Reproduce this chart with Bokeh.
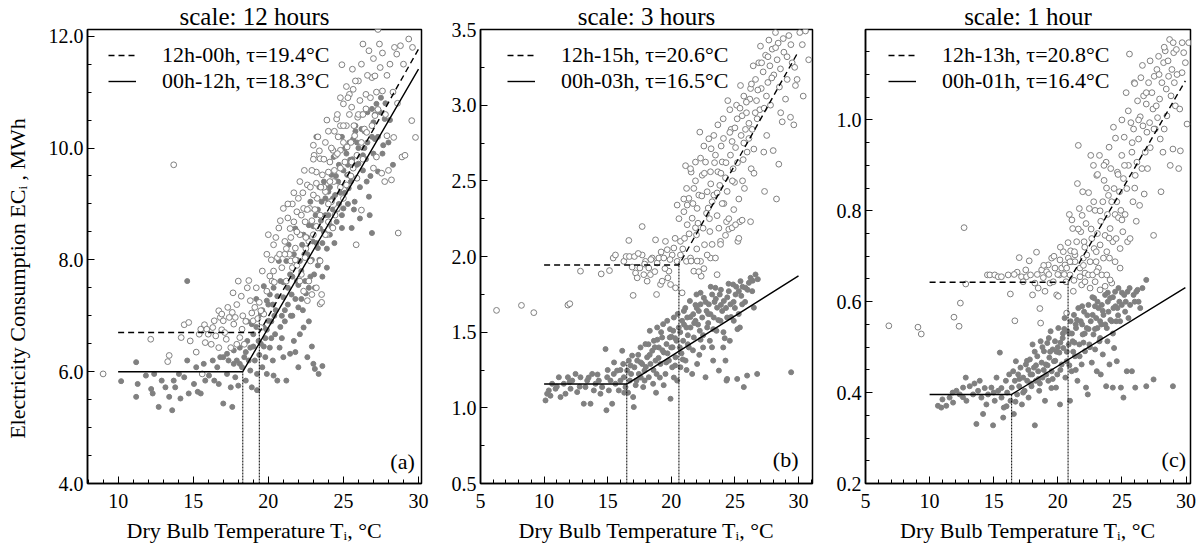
from bokeh.plotting import figure
from bokeh.layouts import row
from bokeh.models import FixedTicker, PrintfTickFormatter, Range1d, Label, Legend, LegendItem
from bokeh.embed import file_html
from bokeh.resources import INLINE

SERIF = "Liberation Serif"
GRAY = "#808080"

# ---------------- panel (a): scale 12 hours ----------------
a_day_pts = [(9.0,5.96),(13.7,9.7),(12.17,6.58),(13.4,6.29),(13.3,6.18),(14.2,6.61),(14.4,6.84),(14.7,6.88),(14.8,6.55),(15.2,6.35),(15.4,6.67),(15.75,6.84),(15.9,6.76),(16.0,6.67),(16.3,6.79),(16.5,6.64),(16.7,7.09),(16.8,6.97),(16.9,7.03),(17.0,6.91),(17.3,7.15),(17.4,6.97),(17.6,7.06),(17.7,6.85),(17.8,6.97),(18.0,7.62),(17.65,7.41),(18.1,6.61),(18.25,6.76),(18.4,6.49),(18.7,7.63),(18.8,7.27),(19.0,6.91),(19.1,7.15),(19.4,7.24),(19.5,6.79),(19.7,7.03),(15.5,6.76),(15.8,6.52),(16.2,6.49),(16.7,6.43),(17.2,6.58),(17.5,6.43),(17.9,6.49),(16.4,6.91),(15.6,5.96),
(20.0,8.45),(20.1,7.71),(20.35,7.80),(20.6,8.04),(20.75,8.1),(21.0,8.92),(20.9,7.86),(21.1,8.33),(21.2,7.62),(21.45,8.56),(21.5,7.98),(21.7,8.68),(21.8,8.21),(21.9,8.86),(22.0,9.1),(22.1,8.45),(22.2,7.74),(22.35,8.92),(22.45,8.68),(22.6,9.34),(22.7,8.33),(22.8,7.98),(23.0,10.05),(23.05,9.87),(23.2,9.37),(23.25,9.1),(23.3,8.57),(23.45,8.8),(23.55,7.38),(23.6,9.52),(23.8,9.22),(23.9,8.45),(24.0,9.57),(24.1,9.04),(24.3,9.96),(24.35,9.40),(24.45,8.8),(24.55,10.52),(24.65,10.2),(24.8,10.4),(24.8,9.96),(25.0,10.79),(25.1,9.75),(25.2,10.4),(25.35,9.52),(25.4,10.96),(25.55,10.73),(25.65,11.05),(25.75,10.22),(25.85,8.27),(25.95,10.55),(26.1,10.85),(26.2,8.89),(26.3,11.86),(26.4,10.34),(26.5,10.96),(26.7,11.74),(26.9,11.26),(27.0,9.64),(27.1,11.29),(27.2,9.84),(27.3,10.69),(27.4,11.86),(27.45,11.44),(27.55,9.55),(27.6,11.02),(27.75,9.40),(27.9,10.22),(28.0,9.6),(28.2,9.43),(28.35,10.19),(28.55,11.68),(28.65,8.48),(28.8,11.83),(28.9,9.84),(29.1,9.87),(29.35,11.95),(29.55,10.49),(29.8,10.19),(27.3,12.12),(24.9,11.49),(25.6,11.41),
(20.35,8.27),(20.7,8.57),(21.4,8.1),(21.6,7.86),(22.1,7.62),(22.35,7.44),(22.6,7.27),(22.9,7.38),(23.2,7.50),(23.45,7.21),(23.55,7.24),(22.7,7.62),(22.45,8.04),(23.0,8.45),(23.45,7.98),(23.8,8.45),(24.0,8.68),(24.2,9.04),(24.3,8.57),(24.6,8.92),(25.0,9.1),(25.2,9.34),(25.55,9.75),(25.9,9.87),(26.2,10.1),(26.55,10.28),(26.9,10.4),(27.1,10.58),(25.9,9.46),(25.65,9.64),(25.25,10.02),(24.8,9.64),(24.5,9.87),(24.1,9.75),(23.8,10.1),(23.45,9.81),(23.2,9.57),(23.0,9.16),(22.75,8.92),(19.5,7.09),(19.9,7.44),(20.25,7.62),
(21.3,8.75),(21.6,9.0),(22.3,9.2),(22.9,9.6),(23.4,9.95),(24.0,10.3),(24.6,10.6),(25.3,10.9),(22.5,8.4),(21.8,8.0),(22.9,8.7),(23.7,9.3),(24.4,9.6),(25.0,10.1),(25.7,10.4),(26.5,10.7),(26.0,11.2),(27.9,11.3),(28.3,11.0),(28.6,10.8),
(19.2,7.5),(19.6,7.8),(19.9,8.1),(20.2,8.0),(20.5,8.4),(20.8,8.7),(21.1,8.1),(21.3,9.0),(21.5,8.4),(21.7,9.2),(21.9,8.5),(22.1,9.4),(22.2,8.8),(22.4,9.6),(22.6,8.9),(22.8,9.3),(23.0,9.8),(23.1,8.9),(23.3,10.2),(23.5,9.3),(23.7,9.8),(23.9,10.5),(24.1,9.4),(24.2,10.0),(24.4,10.3),(24.6,9.9),(24.8,10.9),(25.0,10.4),(25.2,11.1),(25.4,10.6),(25.5,10.1),(25.8,11.2),(26.0,10.6),(26.2,11.5),(26.3,10.6),(26.6,11.3),(26.8,10.9),(27.0,11.6),(27.2,11.0),(27.6,11.7),(27.8,10.6),(28.1,11.5),(28.4,11.8),(29.0,11.5),(29.6,11.8),(17.9,7.2),(18.3,7.0),(18.5,6.9),(18.9,7.05),(19.3,6.95),(16.9,6.75),(17.1,6.7),(18.2,7.35),(18.6,7.5),(20.4,7.6),(21.2,8.2),(21.9,7.9),(22.5,8.2),(23.2,8.6),(24.0,9.0),(24.8,9.3),(25.5,9.5),(26.3,9.8)]

a_night_pts = [(10.2,5.83),(11.2,6.17),(11.2,5.55),(11.3,5.78),(11.85,5.93),(12.2,5.69),(12.3,5.61),(12.4,5.96),(12.7,5.37),(12.9,5.84),(13.15,5.72),(13.4,5.55),(13.6,5.31),(13.7,5.84),(13.8,5.72),(14.05,5.96),(14.15,5.52),(14.4,5.90),(14.6,7.62),(14.6,6.2),(14.7,5.61),(15.05,5.78),(15.2,6.08),(15.3,5.64),(15.5,5.61),(15.7,6.14),(15.8,5.84),(16.05,5.93),(16.3,6.20),(16.4,5.84),(16.6,6.08),(16.7,5.78),(17.0,5.43),(17.0,6.26),(17.25,5.96),(17.35,6.2),(17.5,5.72),(17.6,5.37),(17.7,6.38),(17.8,5.90),(17.9,6.2),(18.0,5.75),(18.1,6.43),(18.25,6.08),(18.4,6.26),(18.5,5.84),(18.6,6.55),(18.7,6.2),(18.8,6.43),(18.9,5.72),(19.0,6.67),(19.1,6.2),(19.25,5.67),(19.35,6.55),(19.5,7.03),(19.6,6.08),(19.7,6.79),(19.8,6.26),(19.9,5.96),(20.0,6.91),(20.1,6.43),(20.35,5.93),(20.45,6.67),(20.6,5.84),(20.75,6.43),(21.0,6.26),(21.2,5.84),(21.45,6.32),(21.7,6.55),(22.0,6.08),(22.1,6.67),(22.35,6.79),(22.6,6.26),(23.0,6.14),(23.1,6.05),(23.35,5.96),
(19.7,7.53),(19.9,7.27),(20.1,7.38),(20.35,7.50),(20.7,7.98),(20.8,7.62),(21.0,7.33),(21.2,7.98),(21.35,8.27),(21.45,7.74),(21.55,7.38),(21.7,8.1),(21.8,8.56),(21.9,7.62),(22.0,7.15),(22.1,7.98),(22.25,8.27),(22.35,8.45),(22.45,7.62),(22.6,8.1),(22.7,8.62),(22.8,9.04),(22.95,8.33),(23.05,7.74),(23.15,8.80),(23.2,10.2),(23.3,8.21),(23.45,8.56),(23.55,9.04),(23.7,9.40),(23.8,8.8),(23.9,7.86),(24.0,9.22),(24.05,9.04),(24.1,8.45),(24.2,9.52),(24.35,9.84),(24.45,9.16),(24.55,8.68),(24.65,9.4),(24.8,9.64),(24.9,8.57),(25.0,8.92),(25.1,9.99),(25.25,9.52),(25.35,9.28),(25.45,9.79),(25.55,8.57),(25.65,10.16),(25.75,9.04),(25.9,9.46),(26.0,9.72),(26.1,8.74),(26.2,10.34),(26.3,9.87),(26.55,9.40),(26.7,9.13),(26.75,8.80),(26.9,8.48),(27.0,10.46),(27.1,10.16),(27.2,10.79),(27.45,10.64),(27.65,10.05),(27.75,10.52),(28.0,10.1),(26.6,10.64),(27.3,9.58),
(19.25,5.96),(16.8,6.26),(17.25,6.32),(17.7,6.14),(18.1,6.14),(18.8,6.02),(18.5,6.35),(19.0,6.45),(19.4,6.3),(19.8,6.6),(20.2,6.9),(20.5,7.1),(20.9,7.0),(21.3,7.2),(20.3,7.2),(19.6,7.1),(21.1,6.9),(21.6,7.0),(22.2,7.3),(22.7,7.5),(23.3,7.9),(23.6,8.3),(24.3,8.9),(24.7,9.0),(25.3,9.7),(25.9,10.1),(26.4,10.0),(26.9,10.2),(22.5,8.9),(23.4,9.3),(24.9,10.2),(25.8,10.4),
(19.2,6.8),(19.5,6.5),(19.9,6.75),(20.0,7.2),(20.2,6.6),(20.4,7.0),(20.6,7.35),(20.8,6.8),(21.0,7.6),(21.1,7.1),(21.3,7.5),(21.5,7.0),(21.6,7.7),(21.8,7.3),(21.9,8.0),(22.0,7.55),(22.2,7.8),(22.3,7.1),(22.4,8.1),(22.5,7.4),(22.6,8.4),(22.8,7.7),(22.9,8.0),(23.0,8.6),(23.1,7.5),(23.2,8.3),(23.3,8.9),(23.4,8.0),(23.5,8.7),(23.6,7.7),(23.7,8.5),(23.8,9.1),(23.9,8.2),(24.0,8.8),(24.1,9.3),(24.2,8.6),(24.3,9.1),(24.4,8.3),(24.5,9.5),(24.6,8.9),(24.7,9.7),(24.8,9.2),(24.9,8.8),(25.0,9.6),(25.1,9.2),(25.2,9.9),(25.3,9.0),(25.4,10.1),(25.5,9.4),(25.6,9.8),(25.7,8.9),(25.8,10.3),(25.9,9.7),(26.0,10.0),(26.1,9.3),(26.2,10.6),(26.3,9.6),(26.4,10.3),(26.5,9.8),(26.6,10.1),(26.8,9.5),(26.9,10.7),(27.0,9.9),(27.1,10.6),(27.3,10.2),(27.5,10.9),(27.6,9.9),(27.8,10.8),(28.1,10.5),(28.3,9.7),(22.7,6.9),(22.9,6.45),(23.6,6.1),(21.8,6.35),(20.9,6.6),(20.3,6.2),(19.7,6.45),(18.9,6.85),(19.2,7.3),(18.6,6.9)]

a_fit_day_x = [10.0, 19.4, 30.0]
a_fit_day_y = [6.70, 6.70, 11.77]
a_fit_night_x = [10.0, 18.3, 30.0]
a_fit_night_y = [6.00, 6.00, 11.41]
a_tau_x = [18.3, 19.4]
a_tau_top = [6.00, 6.97]

# ---------------- panel (b): scale 3 hours ----------------
b_day_pts = [(6.26,1.644),(8.22,1.677),(9.19,1.629),(11.87,1.679),(12.02,1.688),(12.86,1.903),(14.49,1.885),(15.14,1.907),(15.43,1.990),(15.61,2.01),(16.27,1.968),(16.45,2.00),(16.66,2.106),(16.71,2.00),(16.92,1.93),(17.0,1.743),(17.1,2.0),(17.19,1.891),(17.32,1.859),(17.53,1.924),(17.71,2.198),(17.71,2.01),(17.84,1.88),(17.97,1.968),(18.1,1.837),(18.23,1.924),(18.36,1.88),(18.5,1.99),(18.76,2.11),(18.84,1.749),(18.89,1.957),(19.02,1.99),(19.15,1.815),(19.28,1.837),(19.41,1.99),(19.54,2.1),(19.68,2.045),(19.73,1.859),(19.81,1.903),(19.94,1.815),(20.07,2.01),(20.2,2.056),(20.33,1.793),(20.46,2.34),(20.46,1.968),(20.72,2.1),(20.85,1.76),(20.99,2.296),(21.04,2.12),(21.12,2.60),(21.19,1.968),(21.38,2.384),(21.51,1.99),(21.56,2.558),(21.64,2.253),(21.77,1.903),(21.9,2.624),(21.98,2.143),(22.03,2.318),(22.16,2.406),(22.24,2.822),(22.3,1.968),(22.35,1.87),(22.43,2.537),(22.5,2.187),(22.61,2.078),(22.69,2.624),(22.77,2.286),(22.82,2.428),(22.95,2.778),(23.03,2.165),(23.08,1.99),(23.13,2.712),(23.21,2.362),
(23.34,2.406),(23.47,2.67),(23.6,2.27),(23.66,2.56),(23.74,2.187),(23.81,2.47),(23.87,2.10),(23.92,2.73),(24.0,2.625),(24.08,2.91),(24.13,2.35),(24.26,2.52),(24.34,2.23),(24.39,2.43),(24.44,3.03),(24.52,2.18),(24.6,2.97),(24.65,2.67),(24.7,2.84),(24.78,2.76),(24.86,2.58),(24.91,2.31),(24.97,2.49),(25.05,2.72),(25.13,3.0),(25.18,2.91),(25.23,2.1),(25.31,2.38),(25.39,2.23),(25.44,3.13),(25.49,2.80),(25.57,2.93),(25.65,2.64),(25.7,3.06),(25.75,2.45),(25.83,2.84),(25.91,2.95),(25.96,2.69),(26.1,2.78),(26.17,3.04),(26.23,3.11),(26.28,2.58),(26.36,2.84),(26.44,3.26),(26.49,2.71),(26.62,3.17),(26.7,3.03),(26.75,2.91),(26.88,3.28),(26.96,2.97),(27.01,3.39),(27.07,3.11),(27.22,3.22),(27.27,2.69),(27.33,2.43),(27.41,3.33),(27.48,3.06),(27.59,3.15),(27.67,3.43),(27.75,3.26),(27.8,3.0),(27.93,3.37),(28.01,2.70),(28.06,3.20),(28.19,3.48),(28.27,2.38),(28.32,3.30),(28.4,3.41),(28.45,2.61),(28.58,3.24),(28.72,2.89),(28.85,3.35),(28.98,3.04),(29.11,3.17),(29.24,3.46),(29.37,2.92),(29.5,3.28),(29.63,2.87),(29.76,3.13),(29.89,3.17),(30.1,3.48),(30.37,3.06),(30.55,3.49),
(20.72,2.01),(21.25,2.21),(21.56,1.97),(21.9,2.19),(22.03,1.97),(22.16,1.90),(22.56,1.92),(22.82,2.01),(23.21,2.08),(23.47,1.99),(23.6,1.88),(23.87,2.08),(24.26,2.14),(24.52,2.25),(24.78,2.19),(25.05,2.21),(25.31,2.12),(25.57,2.24),(26.23,2.23),
(20.98,2.38),(21.77,2.45),(21.25,2.34),(21.51,2.58),(22.3,2.65),(22.56,2.73),(23.08,2.56),(23.34,2.80),(23.66,2.87),
(17.4,2.02),(17.9,1.95),(18.4,1.98),(18.7,1.90),(19.2,2.03),(19.5,1.92),(19.9,1.98),(20.3,2.12),(20.6,2.25),(20.9,2.05),(21.2,2.45),(21.4,2.15),(21.7,2.35),(21.9,2.50),(22.1,2.22),(22.4,2.40),(22.6,2.55),(22.9,2.32),(23.1,2.48),(23.4,2.62),(23.6,2.42),(23.9,2.55),(24.1,2.78),(24.3,2.62),(24.6,2.82),(24.8,2.50),(25.0,2.85),(25.2,2.62),(25.4,2.98),(25.7,2.75),(25.9,3.02),(26.1,2.88),(26.3,3.14),(26.6,2.95),(26.8,3.10),(27.1,3.28),(27.3,2.98),(27.6,3.32),(27.9,3.18),(28.2,3.38),(28.5,3.12),(28.8,3.44),(29.1,3.32),(29.4,3.40),(29.7,3.25),(30.3,3.40),(30.8,3.30),(22.0,2.05),(23.0,2.25),(24.0,2.35),(25.6,2.50),(26.5,2.55),(27.5,2.80),(28.6,2.95)]

b_night_pts = [(10.11,1.049),(10.24,1.093),(10.37,1.115),(10.63,1.159),(10.9,1.126),(11.16,1.202),(11.29,1.071),(11.55,1.159),(11.68,1.093),(11.87,1.202),(12.08,1.126),(12.21,1.18),(12.47,1.224),(12.6,1.104),(12.86,1.202),(13.12,1.027),(13.25,1.137),(13.39,1.18),(13.65,1.027),(13.78,1.224),(13.91,1.115),(14.04,1.159),(14.3,1.18),(14.43,1.093),(14.56,1.137),(14.83,1.388),(14.9,0.984),(14.96,1.202),(15.09,1.115),(15.22,1.18),(15.35,1.027),(15.48,1.224),(15.61,1.159),(15.74,1.246),(15.87,1.115),(16.0,1.18),(16.14,1.377),(16.22,1.29),(16.27,1.202),(16.4,1.137),(16.53,1.246),(16.66,1.312),(16.74,1.18),(16.84,1.224),(16.92,1.345),(17.0,1.071),(17.05,1.005),(17.1,1.268),(17.26,1.18),(17.32,1.312),(17.45,1.224),(17.58,1.399),(17.71,1.29),(17.79,1.137),(17.89,1.246),(17.97,1.421),(18.1,1.334),(18.23,1.202),(18.31,1.509),(18.36,1.29),(18.5,1.377),(18.57,1.159),(18.63,1.443),(18.76,1.312),(18.84,1.224),(18.89,1.531),(19.02,1.399),(19.15,1.29),(19.28,1.465),(19.36,1.553),(19.41,1.366),(19.54,1.224),(19.62,1.421),(19.68,1.575),(19.81,1.312),(19.88,1.465),(19.94,1.06),(19.99,1.399),(20.07,1.268),(20.15,1.509),(20.2,1.597),(20.33,1.334),(20.41,1.443),(20.46,1.18),(20.59,1.531),(20.67,1.399),(20.72,1.268),(20.85,1.575),(20.93,1.443),(20.99,1.64),(21.12,1.312),(21.19,1.531),(21.25,1.597),(21.38,1.399),(21.46,1.706),(21.51,1.531),(21.64,1.224),(21.72,1.619),(21.77,1.465),(21.9,1.575),(21.98,1.749),(22.03,1.29),(22.16,1.64),(22.24,1.509),(22.3,1.684),(22.43,1.597),(22.5,1.399),(22.56,1.727),(22.69,1.202),(22.77,1.64),(22.82,1.531),(22.95,1.684),(23.03,1.443),(23.08,1.619),(23.21,1.749),(23.29,1.312),(23.34,1.597),(23.47,1.793),(23.55,1.509),(23.6,1.662),(23.74,1.246),(23.81,1.749),(23.87,1.575),(24.0,1.64),(24.08,1.399),(24.13,1.706),(24.26,1.312),(24.34,1.18),(24.39,1.597),(24.52,1.771),(24.6,1.443),(24.65,1.684),(24.86,1.815),(24.91,1.575),(25.05,1.749),(25.18,1.191),(25.31,1.771),(25.39,1.531),(25.44,1.837),(25.57,1.684),(25.7,1.137),(25.83,1.793),(25.96,1.213),(26.1,1.826),(26.23,1.859),(26.36,1.771),(26.49,1.662),(26.62,1.881),(26.75,1.224),(29.42,1.235),(24.39,1.191),
(16.0,1.25),(16.6,1.10),(17.4,1.35),(18.0,1.27),(18.7,1.40),(19.2,1.50),(19.7,1.36),(20.3,1.46),(20.8,1.36),(21.3,1.48),(21.8,1.56),(22.3,1.45),(22.9,1.56),(23.4,1.70),(23.9,1.68),(24.4,1.73),(25.0,1.66),(25.6,1.80),(22.0,1.66),(21.0,1.55),(20.0,1.47),(19.0,1.33),(18.2,1.42),(17.6,1.20),
(17.2,1.15),(17.6,1.30),(17.9,1.18),(18.3,1.35),(18.6,1.25),(18.9,1.45),(19.1,1.20),(19.3,1.38),(19.6,1.30),(19.9,1.52),(20.1,1.40),(20.3,1.28),(20.5,1.62),(20.7,1.50),(20.9,1.32),(21.1,1.66),(21.3,1.42),(21.5,1.60),(21.7,1.38),(21.9,1.68),(22.1,1.55),(22.3,1.76),(22.5,1.48),(22.7,1.70),(22.9,1.62),(23.1,1.80),(23.3,1.52),(23.5,1.72),(23.7,1.58),(23.9,1.78),(24.1,1.50),(24.3,1.66),(24.5,1.82),(24.7,1.60),(24.9,1.70),(25.1,1.80),(25.3,1.62),(25.5,1.74),(25.8,1.70),(26.0,1.78),(26.4,1.84),(26.8,1.85),(25.2,1.52),(24.2,1.46),(23.2,1.40),(22.2,1.35),(21.2,1.25),(20.2,1.20),(19.4,1.15),(18.8,1.10),(15.5,1.30),(15.0,1.25),(14.2,1.22),(13.5,1.20),(12.8,1.14),(12.0,1.17),(11.0,1.14),(10.5,1.08),(16.8,1.28),(16.3,1.10)]

b_fit_day_x = [10.0, 20.6, 30.0]
b_fit_day_y = [1.944, 1.944, 3.356]
b_fit_night_x = [10.0, 16.5, 30.0]
b_fit_night_y = [1.157, 1.157, 1.872]
b_tau_x = [16.5, 20.6]
b_tau_top = [1.30, 1.97]

# ---------------- panel (c): scale 1 hour ----------------
c_day_pts = [(6.82,0.547),(9.09,0.544),(9.35,0.529),(11.9,0.566),(12.3,0.546),(12.4,0.597),(12.69,0.763),(12.82,0.639),(14.51,0.659),(14.7,0.659),(15.08,0.659),(15.35,0.655),(15.6,0.655),(16.13,0.659),(16.3,0.617),(16.65,0.558),(16.83,0.665),(16.99,0.697),(17.17,0.655),(17.3,0.644),(17.56,0.655),(17.77,0.690),(17.87,0.659),(18.03,0.615),(18.21,0.641),(18.34,0.709),(18.47,0.630),(18.6,0.585),(18.66,0.553),(18.74,0.670),(18.87,0.653),(19.0,0.623),(19.13,0.666),(19.26,0.681),(19.39,0.641),(19.52,0.696),(19.65,0.644),(19.78,0.674),(19.91,0.615),(20.04,0.612),(20.12,0.659),(20.17,0.692),(20.3,0.674),(20.43,0.710),(20.56,0.681),(20.64,0.644),(20.69,0.575),(20.82,0.696),(20.9,0.792),(20.95,0.659),(21.0,0.712),(21.08,0.688),(21.16,0.761),(21.21,0.623),(21.26,0.647),(21.34,0.688),(21.47,0.732),(21.53,0.860),(21.6,0.944),(21.68,0.805),(21.73,0.674),(21.79,0.754),(21.86,0.637),(21.94,0.842),(21.99,0.696),(22.05,0.732),(22.12,0.663),(22.2,0.772),(22.26,0.703),(22.39,0.659),(22.46,0.805),(22.52,0.688),(22.57,0.922),(22.65,0.739),(22.72,0.659),(22.78,0.900),(22.83,0.717),(22.91,0.801),(22.99,0.688),(23.04,0.878),(23.09,0.750),(23.17,0.674),(23.25,0.922),(23.3,0.725),(23.35,0.777),(23.43,0.659),(23.51,0.820),(23.56,0.696),(23.61,0.867),(23.69,0.746),(23.77,0.907),(23.82,0.710),(23.87,0.792),(23.95,0.834),(24.03,0.696),(24.08,0.761),(24.13,0.893),(24.21,0.641),(24.29,0.732),(24.34,0.984),(24.39,0.849),(24.47,0.792),(24.55,0.739),(24.6,0.820),(24.65,0.885),(24.73,0.785),(24.81,0.842),(24.86,0.717),(24.92,0.801),(24.99,0.922),(25.07,0.754),(25.12,0.871),(25.18,0.962),(25.25,0.792),(25.33,1.06),(25.38,0.849),(25.44,0.732),(25.51,0.900),(25.59,1.145),(25.64,0.739),(25.7,0.994),(25.78,0.929),(25.86,0.820),(25.91,0.980),(25.96,1.082),(26.04,0.878),(26.12,0.777),(26.17,0.907),(26.22,1.042),(26.3,0.958),(26.38,0.812),(26.43,1.007),(26.48,1.093),(26.56,0.893),(26.64,0.987),(26.69,1.053),(26.74,0.837),(26.82,0.929),(26.9,1.035),(26.95,0.973),(27.0,0.893),(27.08,1.082),(27.16,0.994),(27.21,0.939),(27.34,1.06),(27.42,1.024),(27.47,0.746),(27.52,1.096),(27.6,0.980),(27.68,1.031),(27.73,1.111),(27.78,1.005),(27.86,1.140),(27.94,1.046),(27.99,0.958),(28.05,0.842),(28.12,1.082),(28.2,0.929),(28.25,1.126),(28.3,0.980),(28.38,1.152),(28.46,1.068),(28.51,1.009),(28.64,1.096),(28.72,1.177),(28.77,0.900),(28.83,1.053),(28.9,1.111),(28.98,0.936),(29.04,1.148),(29.09,1.082),(29.17,1.031),(29.25,1.155),(29.43,0.893),(29.51,1.024),(29.56,0.932),(29.69,1.104),(29.82,1.148),(29.95,1.126),(30.08,0.991),(30.21,1.170),
(20.69,0.674),(20.95,0.688),(21.34,0.703),(21.73,0.655),(22.12,0.644),(22.52,0.630),(22.91,0.644),(23.3,0.626),(23.69,0.634),(24.08,0.648),(24.47,0.688),(24.86,0.674),(23.82,0.659),(23.04,0.666),
(18.9,0.68),(19.3,0.66),(19.7,0.70),(20.2,0.72),(20.5,0.66),(20.8,0.73),(21.1,0.78),(21.3,0.71),(21.6,0.76),(21.9,0.79),(22.1,0.72),(22.4,0.84),(22.6,0.76),(22.8,0.82),(23.1,0.88),(23.3,0.80),(23.6,0.90),(23.8,0.85),(24.0,0.94),(24.2,0.82),(24.5,0.96),(24.7,0.88),(25.0,1.00),(25.2,0.90),(25.5,1.02),(25.8,0.95),(26.0,1.08),(26.3,1.00),(26.6,1.12),(26.9,1.06),(27.2,1.13),(27.5,0.98),(27.9,1.10),(28.3,1.16),(28.6,1.13),(29.0,1.17),(29.3,1.10),(29.7,1.17),(22.0,0.68),(23.0,0.71),(24.0,0.74),(25.0,0.78),(26.0,0.85),(20.0,0.66),(18.4,0.66),(17.5,0.67),(16.6,0.66)]

c_night_pts = [(10.65,0.371),(10.91,0.367),(11.3,0.371),(11.56,0.389),(11.83,0.378),(12.09,0.404),(12.35,0.396),(12.61,0.411),(12.82,0.433),(12.87,0.382),(13.13,0.414),(13.39,0.396),(13.65,0.331),(13.78,0.404),(13.91,0.426),(14.04,0.389),(14.17,0.353),(14.43,0.374),(14.56,0.396),(14.82,0.411),(14.95,0.328),(15.08,0.382),(15.22,0.433),(15.35,0.404),(15.48,0.488),(15.61,0.389),(15.74,0.345),(15.79,0.367),(15.95,0.426),(16.05,0.400),(16.21,0.440),(16.31,0.382),(16.41,0.411),(16.52,0.447),(16.57,0.353),(16.65,0.426),(16.73,0.469),(16.83,0.396),(16.91,0.440),(16.99,0.414),(17.09,0.455),(17.2,0.374),(17.3,0.433),(17.41,0.404),(17.51,0.462),(17.61,0.426),(17.72,0.389),(17.82,0.473),(17.87,0.440),(17.95,0.414),(18.03,0.506),(18.14,0.455),(18.21,0.328),(18.29,0.426),(18.4,0.480),(18.47,0.447),(18.55,0.404),(18.66,0.513),(18.74,0.466),(18.81,0.433),(18.92,0.491),(19.0,0.382),(19.07,0.462),(19.18,0.509),(19.26,0.426),(19.34,0.477),(19.44,0.535),(19.52,0.447),(19.6,0.495),(19.7,0.469),(19.78,0.513),(19.86,0.411),(19.96,0.440),(20.04,0.542),(20.12,0.488),(20.17,0.374),(20.3,0.462),(20.38,0.520),(20.43,0.498),(20.53,0.564),(20.59,0.433),(20.69,0.469),(20.77,0.535),(20.85,0.506),(20.95,0.382),(21.0,0.557),(21.08,0.447),(21.16,0.513),(21.26,0.571),(21.34,0.480),(21.42,0.542),(21.53,0.426),(21.6,0.586),(21.68,0.506),(21.79,0.557),(21.86,0.462),(21.94,0.528),(22.05,0.578),(22.12,0.491),(22.2,0.411),(22.26,0.542),(22.34,0.396),(22.39,0.593),(22.46,0.506),(22.57,0.557),(22.65,0.466),(22.72,0.571),(22.78,0.528),(22.83,0.608),(22.91,0.495),(22.99,0.564),(23.04,0.447),(23.09,0.542),(23.17,0.586),(23.25,0.513),(23.3,0.557),(23.35,0.440),(23.43,0.593),(23.51,0.484),(23.56,0.571),(23.69,0.615),(23.77,0.414),(23.82,0.542),(23.87,0.513),(23.95,0.578),(24.03,0.462),(24.08,0.608),(24.21,0.557),(24.29,0.411),(24.34,0.586),(24.39,0.498),(24.47,0.622),(24.55,0.557),(24.6,0.469),(24.65,0.586),(24.73,0.630),(24.86,0.557),(24.92,0.411),(24.99,0.593),(25.12,0.389),(25.18,0.615),(25.25,0.578),(25.38,0.447),(25.44,0.622),(25.51,0.564),(25.64,0.593),(25.78,0.447),(25.91,0.615),(26.04,0.411),(26.12,0.622),(26.3,0.600),(26.43,0.586),(26.9,0.414),(27.47,0.429),(28.98,0.414),(26.9,0.648),(26.22,0.626),
(17.0,0.43),(17.7,0.45),(18.3,0.46),(18.9,0.45),(19.4,0.49),(19.9,0.49),(20.4,0.53),(20.9,0.53),(21.4,0.55),(21.9,0.55),(22.4,0.54),(22.9,0.59),(23.4,0.55),(23.9,0.60),(24.3,0.61),(24.8,0.60),(22.0,0.51),(21.2,0.49),(20.2,0.51),(19.2,0.46),(18.6,0.42),(18.0,0.44),
(17.3,0.40),(17.6,0.47),(17.9,0.42),(18.2,0.49),(18.5,0.43),(18.8,0.50),(19.1,0.44),(19.3,0.52),(19.5,0.41),(19.8,0.47),(20.0,0.50),(20.2,0.45),(20.5,0.54),(20.7,0.49),(20.9,0.46),(21.1,0.53),(21.3,0.51),(21.5,0.56),(21.7,0.48),(21.9,0.59),(22.1,0.53),(22.3,0.57),(22.5,0.50),(22.7,0.61),(22.9,0.54),(23.1,0.60),(23.3,0.52),(23.5,0.58),(23.7,0.55),(23.9,0.62),(24.1,0.56),(24.3,0.53),(24.5,0.59),(24.7,0.57),(25.0,0.62),(25.3,0.60),(25.6,0.63),(26.0,0.60),(26.6,0.63),(16.0,0.37),(15.6,0.41),(15.0,0.40),(14.3,0.41),(13.5,0.42),(12.6,0.39),(11.8,0.40),(11.0,0.385),(16.7,0.38),(19.6,0.43),(21.4,0.45)]

c_fit_day_x = [10.0, 20.8, 29.95]
c_fit_day_y = [0.643, 0.643, 1.086]
c_fit_night_x = [10.0, 16.4, 29.95]
c_fit_night_y = [0.396, 0.396, 0.631]
c_tau_x = [16.4, 20.8]
c_tau_top = [0.396, 0.645]

titles = ["scale: 12 hours", "scale: 3 hours", "scale: 1 hour"]
legend_labels = [("12h-00h, \u03c4=19.4\u00b0C", "00h-12h, \u03c4=18.3\u00b0C"),
                 ("12h-15h, \u03c4=20.6\u00b0C", "00h-03h, \u03c4=16.5\u00b0C"),
                 ("12h-13h, \u03c4=20.8\u00b0C", "00h-01h, \u03c4=16.4\u00b0C")]
tags = ["(a)", "(b)", "(c)"]
x_label = "Dry Bulb Temperature T\u1d62, \u00b0C"
y_label = "Electricity Consumption EC\u1d62 , MWh" + "\u00a0" * 8


def frange(a, b, step):
    n = int(round((b - a) / step))
    return [round(a + i * step, 4) for i in range(n + 1)]


def panel(title, width, bl, br, xr, yr, xmaj, xmin, ymaj, ymin, yfmt,
          day_pts, night_pts, fd, fn, tau_x, tau_top, labels, tag, tag_xy,
          leg_loc, ylabel=None):
    p = figure(width=width, height=545, x_range=Range1d(*xr), y_range=Range1d(*yr),
               output_backend="svg", toolbar_location=None,
               min_border_left=bl, min_border_right=br, min_border_top=28, min_border_bottom=60)
    p.title.text = title
    p.title.align = "center"
    p.title.text_font = SERIF
    p.title.text_font_size = "25px"
    p.title.text_font_style = "normal"
    p.title.text_color = "black"
    p.title.standoff = 0
    p.grid.visible = False
    p.outline_line_color = "black"
    p.outline_line_width = 1.5
    p.outline_line_alpha = 1.0
    p.background_fill_color = "white"
    p.border_fill_color = "white"

    for ax in (p.xaxis[0], p.yaxis[0]):
        ax.axis_line_width = 1.5
        ax.axis_line_color = "black"
        ax.major_tick_in = 7
        ax.major_tick_out = 0
        ax.minor_tick_in = 4
        ax.minor_tick_out = 0
        ax.major_tick_line_width = 1
        ax.minor_tick_line_width = 1
        ax.major_tick_line_color = "black"
        ax.minor_tick_line_color = "black"
        ax.major_label_text_font = SERIF
        ax.major_label_text_font_size = "20px"
        ax.major_label_text_color = "black"
        ax.axis_label_text_font = SERIF
        ax.axis_label_text_font_size = "22px"
        ax.axis_label_text_font_style = "normal"
        ax.axis_label_text_color = "black"
    p.yaxis.major_label_standoff = 4
    p.xaxis.major_label_standoff = 10
    p.xaxis.ticker = FixedTicker(ticks=xmaj, minor_ticks=xmin)
    p.yaxis.ticker = FixedTicker(ticks=ymaj, minor_ticks=ymin)
    p.xaxis.formatter = PrintfTickFormatter(format="%d")
    p.yaxis.formatter = PrintfTickFormatter(format=yfmt)
    p.xaxis.axis_label = x_label
    p.xaxis.axis_label_standoff = 7
    if ylabel:
        p.yaxis.axis_label = ylabel
        p.yaxis.axis_label_standoff = 16

    nx, ny = zip(*night_pts)
    p.scatter(list(nx), list(ny), size=5, marker="circle", fill_color=GRAY, line_color=GRAY)
    dx, dy = zip(*day_pts)
    p.scatter(list(dx), list(dy), size=5.8, marker="circle", fill_color="white",
              line_color=GRAY, line_width=1)

    p.segment(x0=tau_x, y0=[yr[0]] * len(tau_x), x1=tau_x, y1=tau_top,
              line_color="black", line_width=1, line_dash="2 1")
    rd = p.line(fd[0], fd[1], line_color="black", line_width=1.4, line_dash="6 4")
    rn = p.line(fn[0], fn[1], line_color="black", line_width=1.4)

    leg = Legend(items=[LegendItem(label=labels[0], renderers=[rd]),
                        LegendItem(label=labels[1], renderers=[rn])],
                 location=leg_loc)
    leg.border_line_color = None
    leg.background_fill_alpha = 0
    leg.label_text_font = SERIF
    leg.label_text_font_size = "22px"
    leg.label_text_color = "black"
    leg.glyph_width = 28
    leg.label_standoff = 26
    leg.padding = 0
    leg.margin = 0
    leg.spacing = -3
    p.add_layout(leg)

    p.add_layout(Label(x=tag_xy[0], y=tag_xy[1], text=tag, text_align="right",
                       text_baseline="middle", text_font=SERIF, text_font_size="22px",
                       text_color="black"))
    return p


pa = panel(titles[0], 445, 87, 24, xr=(7.96, 30.2), yr=(4.0, 12.12),
           xmaj=[10, 15, 20, 25, 30], xmin=list(range(8, 31)),
           ymaj=[4, 6, 8, 10, 12], ymin=frange(4, 12, 0.5), yfmt="%.1f",
           day_pts=a_day_pts, night_pts=a_night_pts,
           fd=(a_fit_day_x, a_fit_day_y), fn=(a_fit_night_x, a_fit_night_y),
           tau_x=a_tau_x, tau_top=a_tau_top, labels=legend_labels[0], tag=tags[0],
           tag_xy=(29.75, 4.39), leg_loc=(21, 389), ylabel=y_label)
pb = panel(titles[1], 387, 35, 20, xr=(5, 31.1), yr=(0.5, 3.5),
           xmaj=[5, 10, 15, 20, 25, 30], xmin=list(range(5, 32)),
           ymaj=frange(0.5, 3.5, 0.5), ymin=frange(0.5, 3.5, 0.25), yfmt="%.1f",
           day_pts=b_day_pts, night_pts=b_night_pts,
           fd=(b_fit_day_x, b_fit_day_y), fn=(b_fit_night_x, b_fit_night_y),
           tau_x=b_tau_x, tau_top=b_tau_top, labels=legend_labels[1], tag=tags[1],
           tag_xy=(30.0, 0.657), leg_loc=(27, 389))
pc = panel(titles[2], 368, 33, 10, xr=(5, 30.35), yr=(0.2, 1.199),
           xmaj=[5, 10, 15, 20, 25, 30], xmin=list(range(5, 31)),
           ymaj=[0.2, 0.4, 0.6, 0.8, 1.0], ymin=frange(0.2, 1.2, 0.05), yfmt="%.1f",
           day_pts=c_day_pts, night_pts=c_night_pts,
           fd=(c_fit_day_x, c_fit_day_y), fn=(c_fit_night_x, c_fit_night_y),
           tau_x=c_tau_x, tau_top=c_tau_top, labels=legend_labels[2], tag=tags[2],
           tag_xy=(30.0, 0.252), leg_loc=(23, 389))

layout = row(pa, pb, pc)
open("out.html", "w").write(file_html(layout, INLINE))
